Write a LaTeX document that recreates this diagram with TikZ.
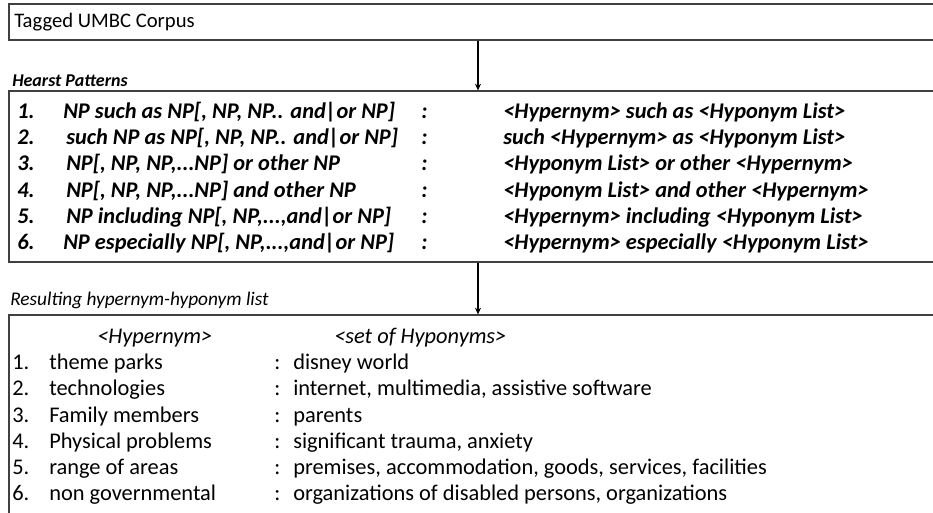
\documentclass[tikz,border=0pt]{standalone}
\usepackage{fontspec}
\setmainfont{Carlito}
\usepackage{xcolor}
\usepackage{tikz}
\usetikzlibrary{positioning, arrows.meta}
\definecolor{boxgray}{RGB}{64,64,64}
\tikzset{
    stagebox/.style={
        draw=boxgray, line width=0.9pt, minimum width=703.5pt, inner sep=0pt
    },
    flow/.style={
        -{Stealth[length=5pt, width=4.5pt]}, line width=1.4pt, black
    },
    rowcol/.style={
        anchor=base west, inner sep=0pt, align=left
    },
    pattxt/.style={
        rowcol, font=\fontsize{16.8}{19.65}\selectfont\bfseries\itshape
    },
    listtxt/.style={
        rowcol, font=\fontsize{16.8}{19.7}\selectfont
    }
}

\begin{document}
\begin{tikzpicture}[x=0.75pt, y=-0.75pt]
    \useasboundingbox (0,0) rectangle (933,513);
    \clip (0,0) rectangle (933,513);

    % the three stages
    \node[stagebox, minimum height=27pt] (corpus) at (478,22) {};
    \node[stagebox, minimum height=128.25pt] (patterns) at (478,176.5) {};
    \node[stagebox, minimum height=168.75pt] (results) at (478,427.5) {};

    \draw[flow] (corpus.south) -- (patterns.north);
    \draw[flow] (patterns.south) -- (results.north);

    % titles
    \node[rowcol, font=\fontsize{15.5}{18}\selectfont] (corpustxt) at (14,28) {Tagged UMBC Corpus};
    \node[rowcol, font=\fontsize{13.5}{16}\selectfont\bfseries\itshape] (hearst) at (12,86.5) {Hearst Patterns};
    \node[rowcol, font=\fontsize{14.5}{17}\selectfont\itshape] (resulting) at (10,305.5) {Resulting hypernym-hyponym list};

    % Hearst patterns, one node per column (placed at the last line's baseline)
    \node[pattxt] (pnum) at (17,249.5) {1.\\2.\\3.\\4.\\5.\\6.};
    \node[pattxt] (ppat) at (63,249.5) {NP such as NP[, NP, NP.. and|or NP]\\
        \hspace{2.25pt}such NP as NP[, NP, NP.. and|or NP]\\
        \hspace{2.25pt}NP[, NP, NP,...NP] or other NP\\
        \hspace{2.25pt}NP[, NP, NP,...NP] and other NP\\
        \hspace{2.25pt}NP including NP[, NP,...,and|or NP]\\
        NP especially NP[, NP,...,and|or NP]};
    \node[pattxt] (pcolon) at (421,249.5) {:\\:\\:\\:\\:\\:};
    \node[pattxt] (pform) at (503,249.5) {<Hypernym> such as <Hyponym List>\\
        such <Hypernym> as <Hyponym List>\\
        <Hyponym List> or other <Hypernym>\\
        <Hyponym List> and other <Hypernym>\\
        <Hypernym> including <Hyponym List>\\
        <Hypernym> especially <Hyponym List>};

    % resulting list
    \node[listtxt, font=\fontsize{16.8}{19.7}\selectfont\itshape] (hyperhead) at (97,343.5) {<Hypernym>};
    \node[listtxt, font=\fontsize{16.8}{19.7}\selectfont\itshape] (hypohead) at (334,343.5) {<set of Hyponyms>};
    \node[listtxt] (rnum) at (12,501) {1.\\2.\\3.\\4.\\5.\\6.};
    \node[listtxt] (rhyper) at (49,501) {theme parks\\technologies\\Family members\\Physical problems\\range of areas\\non governmental};
    \node[listtxt] (rcolon) at (274,501) {:\\:\\:\\:\\:\\:};
    \node[listtxt] (rhypo) at (293,501) {disney world\\
        internet, multimedia, assistive software\\
        parents\\
        significant trauma, anxiety\\
        premises, accommodation, goods, services, facilities\\
        organizations of disabled persons, organizations};
\end{tikzpicture}
\end{document}
